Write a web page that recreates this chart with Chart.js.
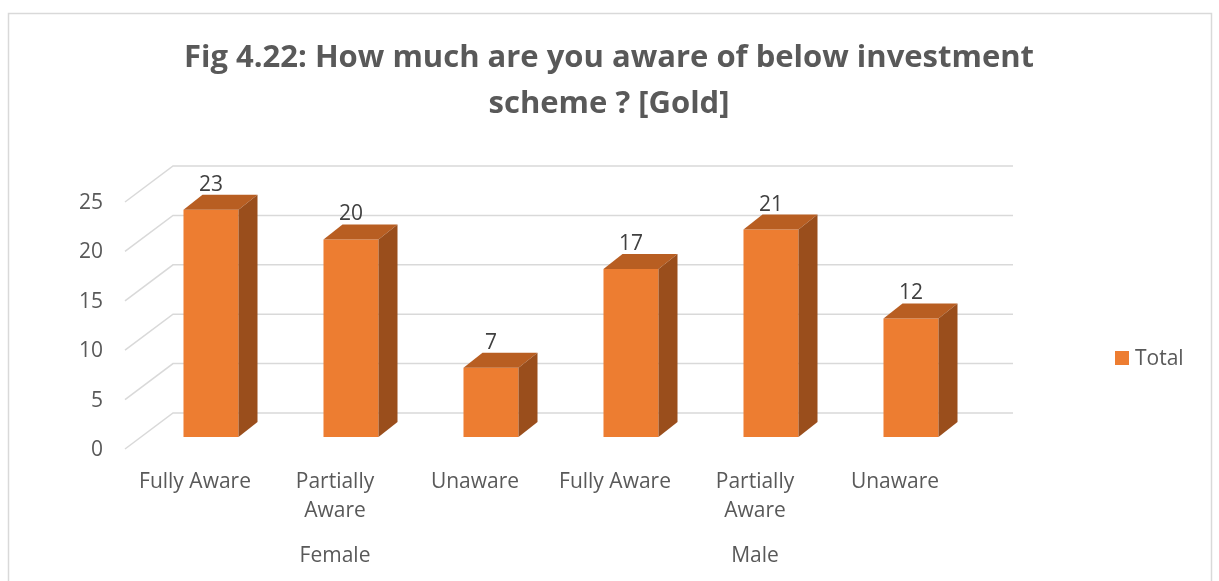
<!DOCTYPE html>
<html>
<head>
<meta charset="utf-8">
<script src="https://cdn.jsdelivr.net/npm/chart.js@4/dist/chart.umd.min.js"></script>
<style>
  html,body{margin:0;padding:0;background:#fff;}
  #wrap{width:1219px;height:581px;position:relative;}
</style>
</head>
<body>
<div id="wrap"><canvas id="c"></canvas></div>
<script>
'use strict';

// ── DATA ─────────────────────────────────────────────────
const titleLines = ['Fig 4.22: How much are you aware of below investment', 'scheme ? [Gold]'];
const categories = [['Fully Aware'], ['Partially', 'Aware'], ['Unaware'], ['Fully Aware'], ['Partially', 'Aware'], ['Unaware']];
const groups = ['Female', 'Male'];
const groupSize = 3;
const totals = [23, 20, 7, 17, 21, 12];
const yTicks = [0, 5, 10, 15, 20, 25];
const seriesName = 'Total';

// ── STYLE ────────────────────────────────────────────────
const FONT = '"Open Sans", Lato, sans-serif';
const TEXT = '#595959';
const GRID = '#d9d9d9';
const FRONT = '#ed7d31';
const TOP = '#b85e22';
const SIDE = '#9a4e1c';
const LABEL_PX = 21;
// 3D offsets relative to the plane where the bar fronts sit
const BACK = { dx: 32, dy: -24 };
const FLOOR_FRONT = { dx: -16, dy: 12 };
const DEPTH = { dx: 19, dy: -15 };

const frame3d = {
  id: 'frame3d',
  beforeDraw(chart){
    const { ctx } = chart;
    ctx.save();
    ctx.fillStyle = '#fff';
    ctx.fillRect(0, 0, chart.width, chart.height);
    ctx.strokeStyle = GRID;
    ctx.lineWidth = 1.5;
    ctx.strokeRect(8.5, 13.5, 1203, 700);

    // title
    ctx.fillStyle = TEXT;
    ctx.font = `bold 31px ${FONT}`;
    ctx.textAlign = 'center';
    ctx.textBaseline = 'middle';
    titleLines.forEach((t, i) => ctx.fillText(t, 609, 58 + i * 46));

    // legend
    ctx.fillStyle = FRONT;
    ctx.fillRect(1115, 351, 14, 14);
    ctx.fillStyle = TEXT;
    ctx.font = `${LABEL_PX}px ${FONT}`;
    ctx.textAlign = 'left';
    ctx.fillText(seriesName, 1135, 359);
    ctx.restore();
  },
  beforeDatasetsDraw(chart){
    const { ctx, chartArea: a, scales: { x, y } } = chart;
    ctx.save();
    ctx.strokeStyle = GRID;
    ctx.lineWidth = 1.5;
    ctx.font = `${LABEL_PX}px ${FONT}`;
    ctx.fillStyle = TEXT;
    ctx.textBaseline = 'middle';
    yTicks.forEach(v => {
      const py = y.getPixelForValue(v);
      ctx.beginPath();
      ctx.moveTo(a.left + FLOOR_FRONT.dx, py + FLOOR_FRONT.dy);
      ctx.lineTo(a.left + BACK.dx, py + BACK.dy);
      ctx.lineTo(a.right + BACK.dx, py + BACK.dy);
      ctx.stroke();
      ctx.textAlign = 'right';
      ctx.fillText(String(v), a.left + FLOOR_FRONT.dx - 22, py + FLOOR_FRONT.dy + 1);
    });

    // category labels on the front edge of the floor
    ctx.textAlign = 'center';
    categories.forEach((lines, i) => {
      const px = x.getPixelForValue(i) + FLOOR_FRONT.dx;
      lines.forEach((t, j) => ctx.fillText(t, px, 482 + j * 29));
    });
    groups.forEach((g, gi) => {
      const p0 = x.getPixelForValue(gi * groupSize);
      const p1 = x.getPixelForValue(gi * groupSize + groupSize - 1);
      ctx.fillText(g, (p0 + p1) / 2 + FLOOR_FRONT.dx, 556);
    });
    ctx.restore();
  },
  afterDatasetsDraw(chart){
    const { ctx } = chart;
    const meta = chart.getDatasetMeta(0);
    ctx.save();
    meta.data.forEach((bar, i) => {
      const { x: cx, y: top, base, width } = bar.getProps(['x', 'y', 'base', 'width'], true);
      const l = cx - width / 2, r = cx + width / 2;
      // top face
      ctx.fillStyle = TOP;
      ctx.beginPath();
      ctx.moveTo(l, top);
      ctx.lineTo(l + DEPTH.dx, top + DEPTH.dy);
      ctx.lineTo(r + DEPTH.dx, top + DEPTH.dy);
      ctx.lineTo(r, top);
      ctx.closePath();
      ctx.fill();
      // side face
      ctx.fillStyle = SIDE;
      ctx.beginPath();
      ctx.moveTo(r, top);
      ctx.lineTo(r + DEPTH.dx, top + DEPTH.dy);
      ctx.lineTo(r + DEPTH.dx, base + DEPTH.dy);
      ctx.lineTo(r, base);
      ctx.closePath();
      ctx.fill();
      // value label
      ctx.fillStyle = '#404040';
      ctx.font = `${LABEL_PX}px ${FONT}`;
      ctx.textAlign = 'center';
      ctx.textBaseline = 'middle';
      ctx.fillText(String(totals[i]), cx, top - 25);
    });
    ctx.restore();
  }
};

new Chart(document.getElementById('c'), {
  type: 'bar',
  data: {
    labels: categories.map(c => c.join(' ')),
    datasets: [{
      label: seriesName,
      data: totals,
      backgroundColor: FRONT,
      borderWidth: 0,
      categoryPercentage: 1,
      barPercentage: 0.393
    }]
  },
  options: {
    responsive: true,
    maintainAspectRatio: false,
    animation: false,
    layout: { padding: { left: 141, right: 238, top: 190, bottom: 144 } },
    plugins: { legend: { display: false }, tooltip: { enabled: false } },
    scales: {
      x: { display: false },
      y: { display: false, min: 0, max: 25 }
    }
  },
  plugins: [frame3d]
});
</script>
</body>
</html>
